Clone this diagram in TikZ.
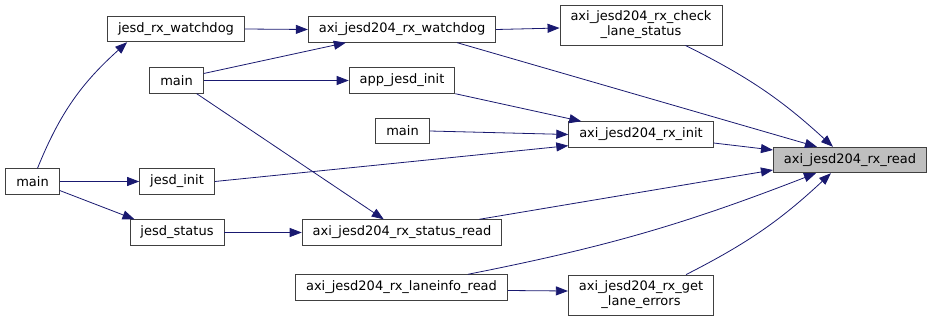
\documentclass[tikz,border=0pt]{standalone}
\usepackage{fontspec}
\setmainfont{DejaVu Sans}
\usetikzlibrary{arrows.meta}
\definecolor{callblue}{HTML}{191970}
\definecolor{boxgray}{HTML}{404040}

\begin{document}
\begin{tikzpicture}[
    x=1pt, y=-1pt,
    fn/.style={draw=boxgray, line width=0.9pt, fill=white, inner xsep=10.5pt,
        inner ysep=6pt, minimum height=25.5pt, align=center,
        font=\fontsize{13}{15}\selectfont},
    root/.style={fn, fill=gray!50},
    call/.style={callblue, line width=0.8pt,
        -{Triangle[length=12pt,width=9pt]}}
]
    \useasboundingbox (0,0) rectangle (933,321);

    % callers, left to right
    \node [fn] (main0) at (32.5,181.5) {main};
    \node [fn] (rxwd) at (176,29) {jesd\_rx\_watchdog};
    \node [fn] (main1) at (176.5,80.5) {main};
    \node [fn] (jinit) at (177,181.5) {jesd\_init};
    \node [fn] (jstat) at (177,232.5) {jesd\_status};
    \node [fn] (axiwd) at (402,29.5) {axi\_jesd204\_rx\_watchdog};
    \node [fn] (appinit) at (402,80.5) {app\_jesd\_init};
    \node [fn] (main2) at (402.5,131) {main};
    \node [fn] (statrd) at (402,232.5) {axi\_jesd204\_rx\_status\_read};
    \node [fn] (laneinfo) at (401.5,287.5) {axi\_jesd204\_rx\_laneinfo\_read};
    \node [fn] (chklane) at (641,25) {axi\_jesd204\_rx\_check\\\_lane\_status};
    \node [fn] (axiinit) at (641,134.5) {axi\_jesd204\_rx\_init};
    \node [fn] (lanerr) at (641,295) {axi\_jesd204\_rx\_get\\\_lane\_errors};
    \node [root] (rxread) at (850,160) {axi\_jesd204\_rx\_read};

    % call edges
    \draw [call] ([xshift=5pt]main0.north) to[out=68,in=222] ([xshift=20pt]rxwd.south west);
    \draw [call] (main0.east) -- (jinit.west);
    \draw [call] ([yshift=-9pt]main0.east) -- ([xshift=5pt]jstat.north west);
    \draw [call] (rxwd.east) -- (axiwd.west);
    \draw [call] ([yshift=7pt]main1.east) -- ([xshift=38pt]axiwd.south west);
    \draw [call] (main1.east) -- (appinit.west);
    \draw [call] ([xshift=-7pt]main1.south east) -- ([xshift=82pt]statrd.north west);
    \draw [call] (jstat.east) -- (statrd.west);
    \draw [call] (axiwd.east) -- ([yshift=-3pt]chklane.west);
    \draw [call] ([xshift=-39pt]axiwd.south east) -- ([xshift=44pt]rxread.north west);
    \draw [call] ([xshift=-37pt]chklane.south east) to[bend left=8] ([xshift=60pt]rxread.north west);
    \draw [call] (appinit.south east) -- ([xshift=13pt]axiinit.north west);
    \draw [call] (main2.east) -- (axiinit.west);
    \draw [call] (jinit.east) -- ([yshift=2pt]axiinit.south west);
    \draw [call] ([yshift=-8.5pt]axiinit.east) -- ([yshift=10pt]rxread.west);
    \draw [call] ([xshift=-23pt]statrd.north east) -- ([yshift=-10pt]rxread.west);
    \draw [call] ([xshift=-40pt]laneinfo.north east) to[bend right=5] ([xshift=43pt]rxread.south west);
    \draw [call] ([yshift=-3pt]laneinfo.east) -- ([yshift=4pt]lanerr.west);
    \draw [call] ([xshift=-28pt]lanerr.north east) to[bend right=8] ([xshift=58pt]rxread.south west);
\end{tikzpicture}
\end{document}
